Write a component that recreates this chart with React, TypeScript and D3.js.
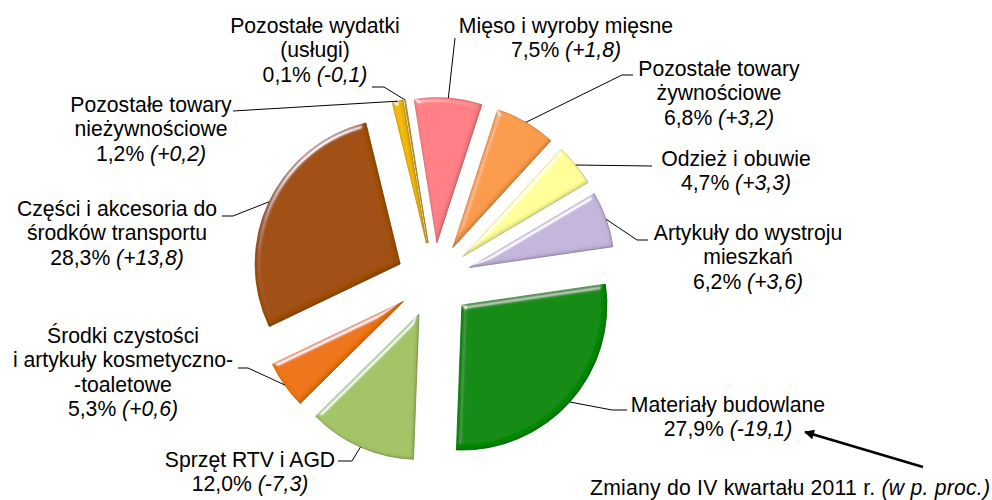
import React from 'react';
import * as d3 from 'd3';

// ---- data ----
const categoryLines: string[][] = [
  ['Mięso i wyroby mięsne'],
  ['Pozostałe towary', 'żywnościowe'],
  ['Odzież i obuwie'],
  ['Artykuły do wystroju', 'mieszkań'],
  ['Materiały budowlane'],
  ['Sprzęt RTV i AGD'],
  ['Środki czystości', 'i artykuły kosmetyczno-', '-toaletowe'],
  ['Części i akcesoria do', 'środków transportu'],
  ['Pozostałe towary', 'nieżywnościowe'],
  ['Pozostałe wydatki', '(usługi)'],
];
const values = [7.5, 6.8, 4.7, 6.2, 27.9, 12.0, 5.3, 28.3, 1.2, 0.1];
const changes = [1.8, 3.2, 3.3, 3.6, -19.1, -7.3, 0.6, 13.8, 0.2, -0.1];
const colors = ['#FF7F85', '#FB9B4C', '#FFFF99', '#C4B5DC', '#068A06', '#A3C566', '#EE7414', '#A0500C', '#F2B800', '#E8A800'];
const noteText = 'Zmiany do IV kwartału 2011 r. ';
const noteItalic = '(w p. proc.)';

// ---- layout (label anchor: centre x, first baseline y; leader start points) ----
const labelLayout = [
  { x: 566, y: 33, leader: [[455, 38]] },
  { x: 719, y: 76, leader: [[633, 75], [622, 75]] },
  { x: 736, y: 166, leader: [[652, 166]] },
  { x: 748, y: 240, leader: [[648, 240], [637, 240]] },
  { x: 728, y: 412, leader: [[627, 410], [612, 410]] },
  { x: 250, y: 467, leader: [[338, 461], [352, 461]] },
  { x: 123, y: 343, leader: [[238, 368], [248, 368]] },
  { x: 117, y: 216, leader: [[222, 216], [233, 216]] },
  { x: 151, y: 112, leader: [[233, 111]] },
  { x: 315, y: 33, leader: [[372, 87], [384, 87]] },
];

const W = 992, H = 500;
const cx = 434, cy = 280, R = 145, EXPLODE = 37.5;
const START = (-9 * Math.PI) / 180;
const LINE_H = 24.3;
const FS = 21.2;
const FONT = "'Liberation Sans', Arial, sans-serif";

const fmt = (v: number) => d3.format('.1f')(Math.abs(v)).replace('.', ',');

export default function App() {
  const pie = d3
    .pie<number>()
    .sort(null)
    .value((d) => d)
    .startAngle(START)
    .endAngle(START + 2 * Math.PI);
  const arcs = pie(values);
  const arcGen = d3.arc<d3.PieArcDatum<number>>().innerRadius(0).outerRadius(R);
  const line = d3.line();

  return (
    <svg width={W} height={H} style={{ position: 'absolute', left: 0, top: 0 }} fontFamily={FONT}>
      <defs>
        <filter id="bevel" x="-10%" y="-10%" width="120%" height="120%">
          <feGaussianBlur in="SourceAlpha" stdDeviation="2.5" result="blur" />
          <feSpecularLighting in="blur" surfaceScale="4" specularConstant="1" specularExponent="28" lightingColor="#ffffff" result="spec">
            <feDistantLight azimuth="235" elevation="25" />
          </feSpecularLighting>
          <feComposite in="spec" in2="SourceAlpha" operator="in" result="specOut" />
          <feGaussianBlur in="SourceAlpha" stdDeviation="1.8" result="blur2" />
          <feOffset in="blur2" dx="-2.5" dy="-2.5" result="off" />
          <feComposite in="SourceAlpha" in2="off" operator="out" result="inner" />
          <feFlood floodColor="#000" floodOpacity="0.3" />
          <feComposite in2="inner" operator="in" result="shadow" />
          <feMerge>
            <feMergeNode in="SourceGraphic" />
            <feMergeNode in="shadow" />
            <feMergeNode in="specOut" />
          </feMerge>
        </filter>
        <marker id="arrow" viewBox="0 0 10 10" refX="9" refY="5" markerWidth="5" markerHeight="4" orient="auto" markerUnits="strokeWidth">
          <path d="M0,0 L10,5 L0,10 z" fill="#000" />
        </marker>
      </defs>

      <g>
        {arcs.map((a, i) => {
          const mid = (a.startAngle + a.endAngle) / 2;
          const ox = EXPLODE * Math.sin(mid);
          const oy = -EXPLODE * Math.cos(mid);
          return (
            <path
              key={i}
              d={arcGen(a) || ''}
              transform={`translate(${cx + ox},${cy + oy})`}
              fill={colors[i]}
              stroke={d3.color(colors[i])!.darker(0.6).formatHex()}
              strokeWidth={0.8}
              filter="url(#bevel)"
            />
          );
        })}
      </g>

      <g fill="none" stroke="#000" strokeWidth={1}>
        {arcs.map((a, i) => {
          const mid = (a.startAngle + a.endAngle) / 2;
          const ex = cx + (EXPLODE + R) * Math.sin(mid);
          const ey = cy - (EXPLODE + R) * Math.cos(mid);
          const pts = [...labelLayout[i].leader, [ex, ey]] as [number, number][];
          return <path key={i} d={line(pts) || ''} />;
        })}
      </g>

      <g fontSize={FS} fill="#000" textAnchor="middle">
        {categoryLines.map((lines, i) => {
          const L = labelLayout[i];
          return (
            <text key={i} x={L.x} y={L.y}>
              {lines.map((t, j) => (
                <tspan key={j} x={L.x} y={L.y + j * LINE_H}>
                  {t}
                </tspan>
              ))}
              <tspan x={L.x} y={L.y + lines.length * LINE_H}>
                {fmt(values[i]) + '% '}
                <tspan fontStyle="italic">{'(' + (changes[i] >= 0 ? '+' : '-') + fmt(changes[i]) + ')'}</tspan>
              </tspan>
            </text>
          );
        })}
      </g>

      <path d={line([[923, 467], [805, 432]]) || ''} stroke="#000" strokeWidth={2.5} markerEnd="url(#arrow)" />

      <text x={990} y={495} fontSize={FS} textAnchor="end" textLength={400} lengthAdjust="spacing">
        {noteText}
        <tspan fontStyle="italic">{noteItalic}</tspan>
      </text>
    </svg>
  );
}
